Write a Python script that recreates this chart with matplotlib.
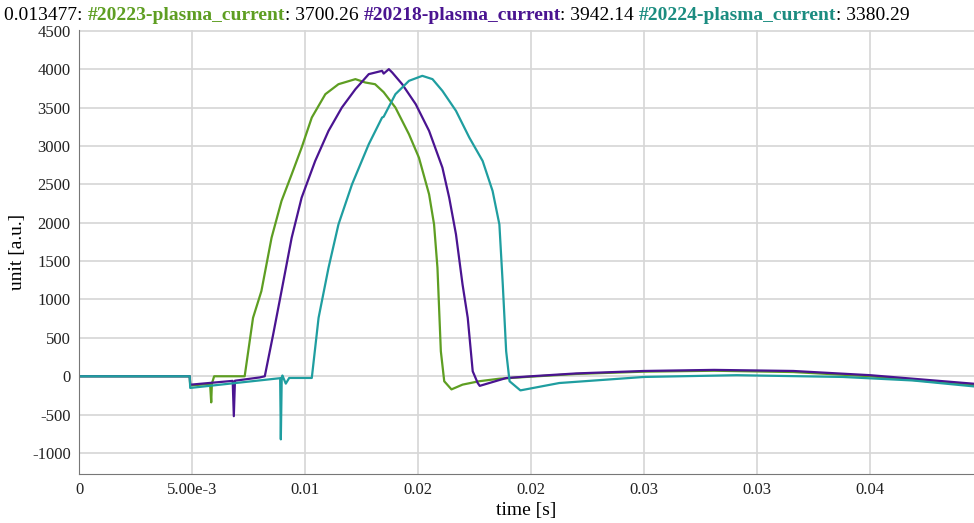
import matplotlib
matplotlib.use("Agg")
import matplotlib.pyplot as plt

plt.rcParams['font.family'] = ['Liberation Serif', 'DejaVu Serif']
plt.rcParams['axes.unicode_minus'] = False

# ---- data (time in s, current in a.u.) ----
t_20223 = [0, 0.0049, 0.00492, 0.0058, 0.00585, 0.00588, 0.00598, 0.0070, 0.00733,
           0.0077, 0.00807, 0.00852, 0.00896, 0.00941, 0.00985, 0.0103, 0.0109,
           0.01148, 0.01223, 0.01267, 0.0131, 0.01348, 0.014, 0.0146, 0.01504,
           0.01549, 0.01571, 0.01586, 0.01601, 0.01616, 0.01648, 0.01697, 0.0177,
           0.01859, 0.02, 0.022, 0.025, 0.0281, 0.0316, 0.035, 0.0397]
i_20223 = [0, 0, -120, -100, -340, -95, 0, 0, 0,
           761, 1109, 1804, 2283, 2630, 2978, 3370, 3674,
           3804, 3870, 3826, 3804, 3700, 3500, 3152, 2848,
           2370, 1978, 1413, 326, -65, -171, -109, -65,
           -32, -5, 30, 60, 72, 55, 0, -120]

t_20218 = [0, 0.0049, 0.00492, 0.0068, 0.00685, 0.0069, 0.0080, 0.00822,
           0.00859, 0.00896, 0.00941, 0.00985, 0.01045, 0.01104, 0.01163, 0.01223,
           0.01282, 0.01341, 0.01348, 0.01371, 0.01386, 0.0143, 0.0149, 0.01549,
           0.01608, 0.01638, 0.01668, 0.01697, 0.0172, 0.01742, 0.01764, 0.01773,
           0.0189, 0.02, 0.022, 0.025, 0.0281, 0.0316, 0.035, 0.0397]
i_20218 = [0, 0, -110, -60, -520, -58, -15, 0,
           543, 1109, 1804, 2326, 2804, 3196, 3500, 3739,
           3935, 3978, 3942, 4000, 3956, 3804, 3543, 3196,
           2717, 2326, 1848, 1196, 761, 65, -87, -125,
           -23, 0, 37, 69, 83, 69, 14, -100]

t_20224 = [0, 0.0049, 0.00492, 0.0089, 0.00893, 0.00897, 0.0090, 0.00915, 0.0093,
           0.0103, 0.0106, 0.01104, 0.01148, 0.01208, 0.01282, 0.01341, 0.01348,
           0.014, 0.0146, 0.01519, 0.01564, 0.01608, 0.01668, 0.01727, 0.01786,
           0.0183, 0.0186, 0.01875, 0.0189, 0.01905, 0.01953, 0.02125, 0.025,
           0.0291, 0.0338, 0.0369, 0.0397]
i_20224 = [0, 0, -152, -25, -822, -20, 10, -96, -22,
           -22, 761, 1413, 1978, 2500, 3022, 3370, 3380,
           3674, 3848, 3913, 3870, 3717, 3457, 3109, 2804,
           2413, 1978, 1196, 326, -65, -184, -88, -9,
           14, -9, -55, -135]

x_ticks = [0, 0.005, 0.01, 0.015, 0.02, 0.025, 0.03, 0.035]
x_ticklabels = ["0", "5.00e-3", "0.01", "0.02", "0.02", "0.03", "0.03", "0.04"]
y_ticks = list(range(-1000, 4501, 500))

c_green = '#5e9e22'
c_purple = '#4a1491'
c_teal = '#1f9ea0'

fig = plt.figure(figsize=(9.74, 5.23), dpi=100)
ax = fig.add_axes([79 / 974, 49 / 523, 1 - 79 / 974, (474 - 30) / 523])

ax.plot(t_20223, i_20223, color=c_green, lw=1.6)
ax.plot(t_20218, i_20218, color=c_purple, lw=1.6)
ax.plot(t_20224, i_20224, color=c_teal, lw=1.6)

ax.set_xlim(0, 0.0396)
ax.set_ylim(-1273, 4510)
ax.set_xticks(x_ticks)
ax.set_xticklabels(x_ticklabels)
ax.set_yticks(y_ticks)
ax.tick_params(length=0, labelsize=12, colors='#222222', pad=6)
ax.grid(True, color='#d6d6d6', lw=1.2)
ax.set_axisbelow(True)
for side in ['top', 'right']:
    ax.spines[side].set_visible(False)
for side in ['left', 'bottom']:
    ax.spines[side].set_color('#777777')
ax.set_xlabel("time [s]", fontsize=14, labelpad=3)
ax.set_ylabel("unit [a.u.]", fontsize=14, labelpad=4)

# header line built from pieces so each series label keeps its colour
pieces = [("0.013477: ", 'black', 'normal'),
          ("#20223-plasma_current", c_green, 'bold'),
          (": 3700.26 ", 'black', 'normal'),
          ("#20218-plasma_current", c_purple, 'bold'),
          (": 3942.14 ", 'black', 'normal'),
          ("#20224-plasma_current", '#1b8c80', 'bold'),
          (": 3380.29", 'black', 'normal')]
y0 = 1 - 20 / 523
texts = [fig.text(4 / 974, y0, s, color=c, fontweight=w, fontsize=14, va='baseline')
         for s, c, w in pieces]

fig.canvas.draw()
r = fig.canvas.get_renderer()
x0 = texts[0].get_window_extent(r).x1
for t in texts[1:]:
    t.set_position((x0 / fig.bbox.width, y0))
    x0 = t.get_window_extent(r).x1

fig.savefig("out.png", dpi=100)
